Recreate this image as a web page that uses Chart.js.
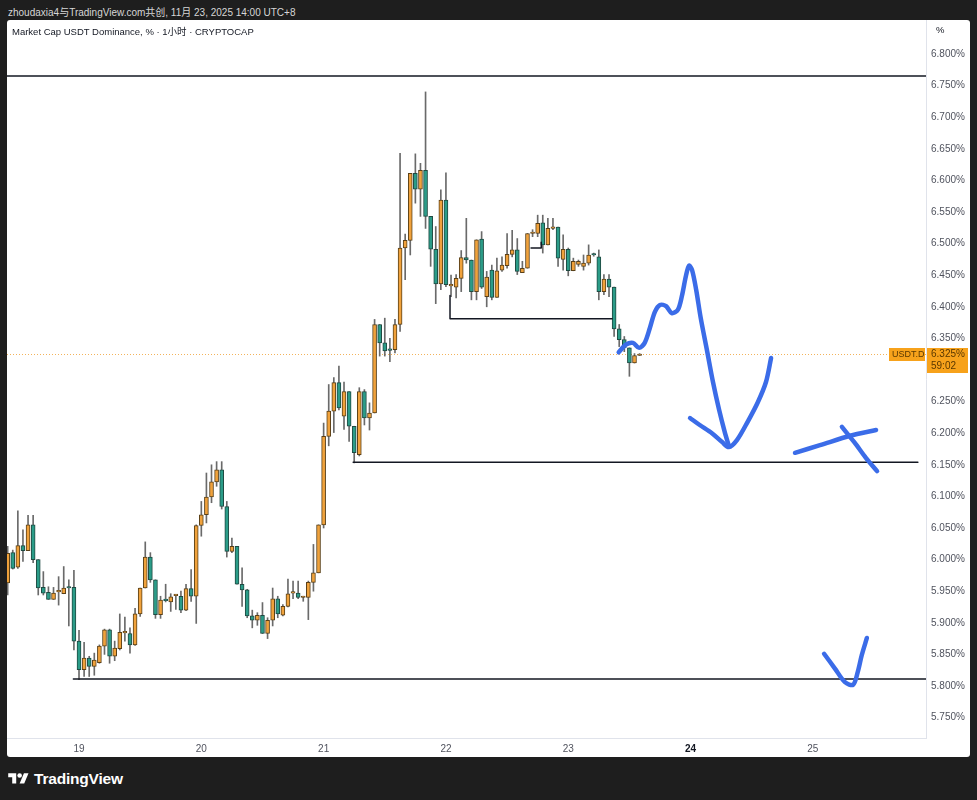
<!DOCTYPE html>
<html>
<head>
<meta charset="utf-8">
<script src="https://cdn.jsdelivr.net/npm/chart.js@4.4.0/dist/chart.umd.min.js"></script>
<style>
  body { margin: 0; background: #1e1e1e; width: 977px; height: 800px; overflow: hidden; font-family: 'Liberation Sans', 'Noto Sans CJK SC', sans-serif; }
  #top { position: absolute; left: 8px; top: 4px; color: #d6d6d6; font-size: 10px; }
  #panel { position: absolute; left: 7px; top: 20px; width: 963px; height: 737px; background: #fff; border-radius: 3px; overflow: hidden; }
  #chart { position: absolute; left: 0; top: 0; }
  #legend { position: absolute; left: 5px; top: 4px; font-size: 9.5px; color: #131722; }
  #pct { position: absolute; left: 929px; top: 4px; font-size: 9.5px; color: #131722; }
  #logo { position: absolute; left: 8px; top: 770px; color: #fff; font-size: 15.5px; font-weight: bold; display: flex; align-items: center; gap: 5px; letter-spacing: -0.2px; }
</style>
</head>
<body>
<div id="top">zhoudaxia4与TradingView.com共创, 11月 23, 2025 14:00 UTC+8</div>
<div id="panel">
  <canvas id="chart" width="963" height="737"></canvas>
  <div id="legend">Market Cap USDT Dominance, % · 1小时 · CRYPTOCAP</div>
  <div id="pct">%</div>
</div>
<div id="logo">
  <svg width="21" height="16" viewBox="0 0 36 28"><path d="M14 22H7V11H0V4h14v18z" fill="#fff"/><circle cx="20" cy="8" r="4" fill="#fff"/><path d="M28 22h-8l7.5-18h8L28 22z" fill="#fff"/></svg>
  <span>TradingView</span>
</div>
<script>
// 1h candles, first one is Nov 18 10:00 (hours counted from Nov 19 00:00, UTC+8)
const firstHour = -14;

const opens = [
  5.963, 6.011, 5.988, 6.022, 6.014, 6.055, 6.000, 5.956, 5.948, 5.937,
  5.949, 5.946, 5.956, 5.956, 5.871, 5.826, 5.844, 5.831, 5.837, 5.863,
  5.889, 5.847, 5.859, 5.884, 5.883, 5.865, 5.914, 5.955, 6.004, 5.968,
  5.913, 5.936, 5.933, 5.943, 5.942, 5.920, 5.954, 5.942, 6.054, 6.071,
  6.099, 6.123, 6.142, 6.084, 6.013, 6.021, 5.961, 5.952, 5.911, 5.904,
  5.912, 5.883, 5.904, 5.938, 5.912, 5.926, 5.947, 5.947, 5.940, 5.940,
  5.964, 5.979, 6.055, 6.195, 6.235, 6.280, 6.227, 6.266, 6.211, 6.166,
  6.266, 6.224, 6.232, 6.372, 6.343, 6.332, 6.332, 6.372, 6.493, 6.505,
  6.611, 6.586, 6.616, 6.543, 6.491, 6.436, 6.569, 6.433, 6.431, 6.445,
  6.478, 6.474, 6.424, 6.507, 6.416, 6.458, 6.415, 6.458, 6.465, 6.483,
  6.490, 6.454, 6.461, 6.516, 6.516, 6.533, 6.498, 6.524, 6.526, 6.475,
  6.491, 6.457, 6.467, 6.464, 6.469, 6.483, 6.479, 6.424, 6.444, 6.431,
  6.365, 6.348, 6.335, 6.311, 6.323
];
const highs = [
  6.021, 6.015, 6.077, 6.047, 6.070, 6.070, 6.000, 5.981, 5.957, 5.956,
  5.973, 5.989, 5.968, 5.983, 5.888, 5.869, 5.847, 5.852, 5.865, 5.890,
  5.890, 5.871, 5.914, 5.909, 5.892, 5.923, 5.955, 6.028, 6.011, 5.968,
  5.942, 5.961, 5.946, 5.945, 5.950, 5.961, 5.984, 6.055, 6.092, 6.137,
  6.150, 6.155, 6.155, 6.092, 6.034, 6.021, 5.987, 5.953, 5.920, 5.916,
  5.932, 5.908, 5.955, 5.942, 5.929, 5.969, 5.966, 5.966, 5.942, 5.966,
  6.024, 6.055, 6.216, 6.277, 6.288, 6.306, 6.281, 6.266, 6.211, 6.272,
  6.269, 6.248, 6.380, 6.372, 6.382, 6.350, 6.380, 6.643, 6.515, 6.611,
  6.642, 6.627, 6.740, 6.543, 6.527, 6.585, 6.612, 6.450, 6.451, 6.489,
  6.540, 6.474, 6.506, 6.519, 6.456, 6.466, 6.477, 6.479, 6.516, 6.521,
  6.508, 6.472, 6.516, 6.522, 6.545, 6.545, 6.540, 6.540, 6.526, 6.514,
  6.493, 6.477, 6.474, 6.482, 6.498, 6.485, 6.490, 6.451, 6.451, 6.431,
  6.372, 6.353, 6.335, 6.326, 6.326
];
const lows = [
  5.944, 5.985, 5.986, 5.997, 6.014, 5.995, 5.944, 5.944, 5.937, 5.937,
  5.928, 5.946, 5.895, 5.857, 5.810, 5.815, 5.815, 5.817, 5.836, 5.850,
  5.836, 5.840, 5.857, 5.871, 5.852, 5.864, 5.910, 5.955, 5.964, 5.907,
  5.907, 5.933, 5.918, 5.921, 5.916, 5.919, 5.934, 5.899, 6.037, 6.058,
  6.090, 6.116, 6.080, 6.004, 6.011, 5.961, 5.926, 5.908, 5.892, 5.896,
  5.883, 5.875, 5.895, 5.908, 5.911, 5.925, 5.938, 5.938, 5.934, 5.905,
  5.950, 5.979, 6.050, 6.180, 6.201, 6.237, 6.206, 6.187, 6.153, 6.164,
  6.213, 6.205, 6.232, 6.322, 6.322, 6.313, 6.327, 6.361, 6.443, 6.482,
  6.564, 6.543, 6.524, 6.464, 6.405, 6.427, 6.432, 6.416, 6.414, 6.424,
  6.469, 6.411, 6.411, 6.429, 6.400, 6.411, 6.415, 6.456, 6.461, 6.479,
  6.451, 6.454, 6.461, 6.511, 6.511, 6.485, 6.498, 6.522, 6.464, 6.458,
  6.449, 6.457, 6.464, 6.458, 6.466, 6.480, 6.411, 6.419, 6.416, 6.353,
  6.337, 6.329, 6.290, 6.311, 6.323
];
const closes = [
  6.010, 5.986, 6.022, 6.014, 6.055, 6.000, 5.955, 5.947, 5.937, 5.947,
  5.950, 5.955, 5.955, 5.871, 5.826, 5.844, 5.831, 5.841, 5.863, 5.889,
  5.847, 5.860, 5.885, 5.884, 5.865, 5.914, 5.955, 6.004, 5.968, 5.913,
  5.936, 5.935, 5.941, 5.944, 5.920, 5.954, 5.942, 6.054, 6.071, 6.099,
  6.123, 6.142, 6.084, 6.013, 6.021, 5.961, 5.952, 5.911, 5.904, 5.912,
  5.883, 5.904, 5.938, 5.914, 5.926, 5.946, 5.948, 5.940, 5.941, 5.964,
  5.979, 6.055, 6.195, 6.235, 6.280, 6.240, 6.266, 6.211, 6.169, 6.266,
  6.224, 6.232, 6.372, 6.343, 6.330, 6.331, 6.372, 6.493, 6.505, 6.611,
  6.586, 6.616, 6.543, 6.491, 6.436, 6.569, 6.435, 6.434, 6.445, 6.478,
  6.474, 6.424, 6.506, 6.431, 6.447, 6.415, 6.457, 6.466, 6.483, 6.490,
  6.456, 6.461, 6.516, 6.517, 6.532, 6.498, 6.524, 6.525, 6.477, 6.491,
  6.457, 6.472, 6.472, 6.469, 6.482, 6.482, 6.424, 6.444, 6.431, 6.365,
  6.348, 6.335, 6.311, 6.323, 6.325
];

// axes
const dayTicks = [0, 24, 48, 72, 96, 120, 144];
const dayLabels = ['19', '20', '21', '22', '23', '24', '25'];
const priceTicks = [6.80, 6.75, 6.70, 6.65, 6.60, 6.55, 6.50, 6.45, 6.40, 6.35, 6.30,
  6.25, 6.20, 6.15, 6.10, 6.05, 6.00, 5.95, 5.90, 5.85, 5.80, 5.75];
const symbol = 'USDT.D';
const countdown = '59:02';

// user drawings, [hour, price]
const levelTop = [[-14.2, 6.765], [166.3, 6.765]];
const levelMid = [[53.8, 6.154], [164.6, 6.154]];
const levelLow = [[-1.1, 5.811], [166.3, 5.811]];
const rangeBox = [[72.8, 6.418], [72.8, 6.381], [104.6, 6.381]];
const smallBox = [[88.7, 6.493], [90.7, 6.493], [90.7, 6.502]];
const waveStroke = [[105.9, 6.328], [107.3, 6.340], [108.7, 6.343], [109.9, 6.335], [111.0, 6.343],
  [112.0, 6.366], [113.0, 6.392], [114.0, 6.403], [115.2, 6.401], [116.3, 6.390], [117.5, 6.395],
  [118.3, 6.417], [119.1, 6.449], [119.7, 6.465], [120.3, 6.458], [121.1, 6.427], [122.0, 6.382],
  [123.2, 6.332], [124.4, 6.281], [125.6, 6.237], [126.7, 6.202], [127.5, 6.180]];
const arrowHead = [[119.9, 6.224], [121.8, 6.213], [124.2, 6.200], [126.2, 6.186], [127.5, 6.178],
  [129.1, 6.189], [131.2, 6.218], [133.2, 6.249], [134.8, 6.281], [135.8, 6.319]];
const crossA = [[140.5, 6.169], [145.4, 6.181], [151.3, 6.196], [156.4, 6.205]];
const crossB = [[149.7, 6.210], [152.2, 6.185], [154.4, 6.161], [156.6, 6.140]];
const checkMark = [[146.2, 5.851], [148.3, 5.828], [150.3, 5.806], [151.9, 5.802], [152.8, 5.822],
  [153.6, 5.849], [154.6, 5.876]];

const upColor = '#f0a23c';
const downColor = '#2b9c88';
const hours = opens.map((o, i) => firstHour + i);
const isUp = closes.map((c, i) => c >= opens[i]);

function drawing(points, color, width, tension) {
    return {
        type: 'line',
        data: points.map(p => ({ x: p[0], y: p[1] })),
        borderColor: color,
        borderWidth: width,
        pointRadius: 0,
        tension: tension,
        borderCapStyle: 'round',
        borderJoinStyle: 'round',
        order: color === '#131722' ? 1 : 0
    };
}

// last price line + tags on the axis
const lastPrice = {
    id: 'lastPrice',
    beforeDatasetsDraw(chart) {
        const { ctx, chartArea, scales } = chart;
        const y = Math.round(scales.y.getPixelForValue(closes[closes.length - 1])) + 0.5;
        ctx.save();
        ctx.strokeStyle = 'rgba(240,160,50,0.8)';
        ctx.setLineDash([1, 2]);
        ctx.lineWidth = 1;
        ctx.beginPath();
        ctx.moveTo(chartArea.left, y);
        ctx.lineTo(chartArea.right, y);
        ctx.stroke();
        ctx.restore();
    },
    afterDraw(chart) {
        const { ctx, chartArea, scales } = chart;
        const last = closes[closes.length - 1];
        const y = Math.round(scales.y.getPixelForValue(last));
        ctx.save();
        ctx.fillStyle = '#f7a21b';
        ctx.fillRect(chartArea.right - 37, y - 6, 36, 13);
        ctx.fillRect(chartArea.right + 1, y - 6, 41, 25);
        ctx.fillStyle = '#5a3800';
        ctx.textBaseline = 'middle';
        ctx.textAlign = 'left';
        ctx.font = '9px "Liberation Sans"';
        ctx.fillText(symbol, chartArea.right - 34, y + 0.5);
        ctx.font = '10px "Liberation Sans"';
        ctx.fillText(last.toFixed(3) + '%', chartArea.right + 5, y + 0.5);
        ctx.fillText(countdown, chartArea.right + 5, y + 12);
        ctx.restore();
    }
};

const ctx = document.getElementById('chart').getContext('2d');
const chart = new Chart(ctx, {
    type: 'bar',
    data: {
        datasets: [
            {
                label: 'wicks',
                data: hours.map((h, i) => ({ x: h, y: [lows[i], highs[i]] })),
                backgroundColor: '#6a6a6a',
                borderWidth: 0,
                grouped: false,
                barPercentage: 1,
                categoryPercentage: 1,
                maxBarThickness: 1,
                order: 3
            },
            {
                label: 'bodies',
                data: hours.map((h, i) => ({ x: h, y: [opens[i], closes[i]] })),
                backgroundColor: isUp.map(u => u ? upColor : downColor),
                borderColor: isUp.map(u => u ? '#5a4018' : '#1f4a42'),
                borderWidth: 1,
                borderSkipped: false,
                grouped: false,
                barPercentage: 1,
                categoryPercentage: 1,
                maxBarThickness: 4,
                minBarLength: 1.5,
                order: 2
            },
            drawing(levelTop, '#131722', 1.5, 0),
            drawing(levelMid, '#131722', 1.5, 0),
            drawing(levelLow, '#131722', 1.5, 0),
            drawing(rangeBox, '#131722', 1.5, 0),
            drawing(smallBox, '#131722', 1.5, 0),
            drawing(waveStroke, '#3b6ce8', 4.5, 0.3),
            drawing(arrowHead, '#3b6ce8', 4.5, 0.3),
            drawing(crossA, '#3b6ce8', 4.5, 0.3),
            drawing(crossB, '#3b6ce8', 4.5, 0.3),
            drawing(checkMark, '#3b6ce8', 4.5, 0.3)
        ]
    },
    options: {
        responsive: false,
        animation: false,
        events: [],
        layout: { padding: 0 },
        plugins: {
            legend: { display: false },
            tooltip: { enabled: false }
        },
        scales: {
            x: {
                type: 'linear',
                offset: false,
                min: -14.13,
                max: 166.2,
                grid: { display: false, drawTicks: false },
                border: { display: true, color: '#e0e3eb' },
                afterBuildTicks: scale => { scale.ticks = dayTicks.map(v => ({ value: v })); },
                afterFit: scale => { scale.height = 19; scale.paddingLeft = 0; scale.paddingRight = 0; },
                ticks: {
                    padding: 5,
                    maxRotation: 0,
                    autoSkip: false,
                    callback: (v, i) => dayLabels[i],
                    color: c => dayLabels[c.index] === '24' ? '#131722' : '#50535e',
                    font: c => ({ family: 'Liberation Sans', size: 10, weight: dayLabels[c.index] === '24' ? 'bold' : 'normal' })
                }
            },
            y: {
                type: 'linear',
                position: 'right',
                min: 5.7177,
                max: 6.8538,
                grid: { display: false, drawTicks: false },
                border: { display: true, color: '#e0e3eb' },
                afterBuildTicks: scale => { scale.ticks = priceTicks.map(v => ({ value: v })); },
                afterFit: scale => { scale.width = 44; scale.paddingTop = 0; scale.paddingBottom = 0; },
                ticks: {
                    padding: 5,
                    color: '#50535e',
                    font: { family: 'Liberation Sans', size: 10 },
                    callback: v => v.toFixed(3) + '%'
                }
            }
        }
    },
    plugins: [lastPrice]
});
</script>
</body>
</html>
